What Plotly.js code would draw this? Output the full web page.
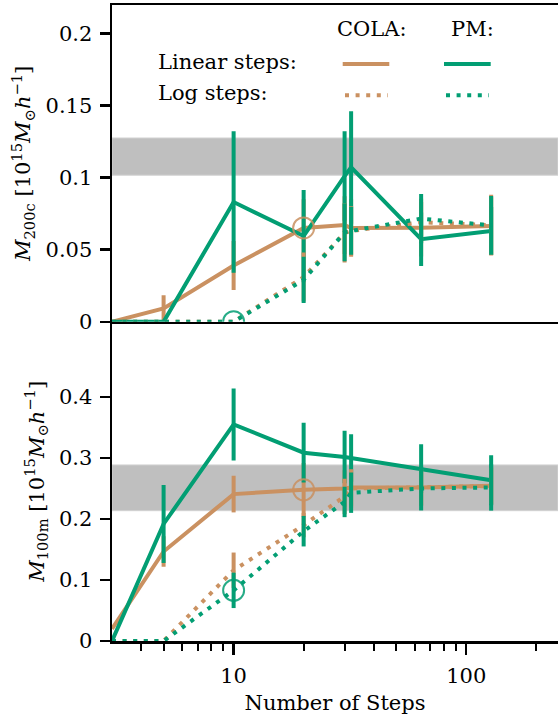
<!DOCTYPE html>
<html>
<head>
<meta charset="utf-8">
<script src="https://cdn.plot.ly/plotly-3.0.1.min.js"></script>
<style>html,body{margin:0;padding:0;background:#fff;}#chart{width:558px;height:716px;}</style>
</head>
<body>
<div id="chart"></div>
<script>
// ---- data ----
const steps = [3, 5, 10, 20, 30, 32, 64, 128];

// top panel: M200c
const colaLin200c    = [0, 0.0093, 0.039, 0.065, 0.067, 0.065, 0.0652, 0.0663];
const colaLin200cErr = [0, 0.009, 0.017, 0.020, 0.020, 0.020, 0.020, 0.020];
const pmLin200c      = [0, 0, 0.083, 0.0594, 0.101, 0.107, 0.0572, 0.0629];
const pmLin200cErr   = [0, 0, 0.049, 0.032, 0.031, 0.039, 0.0185, 0.0166];
const colaLog200c    = [0, 0, 0, 0.031, 0.0615, 0.063, 0.069, 0.067];
const colaLog200cErr = [0, 0, 0, 0.017, 0.0205, 0.017, 0.014, 0.021];
const pmLog200c      = [0, 0, 0, 0.029, 0.062, 0.063, 0.0715, 0.0668];
const pmLog200cErr   = [0, 0, 0, 0.016, 0.020, 0.0165, 0.017, 0.0203];
const band200c = [0.1016, 0.1274];

// bottom panel: M100m
const colaLin100m    = [0.02, 0.1467, 0.2408, 0.2478, 0.25, 0.2517, 0.2517, 0.2543];
const colaLin100mErr = [0, 0.025, 0.030, 0.044, 0.030, 0.030, 0.030, 0.030];
const pmLin100m      = [0, 0.1919, 0.355, 0.3087, 0.3017, 0.300, 0.2827, 0.2636];
const pmLin100mErr   = [0, 0.064, 0.059, 0.049, 0.043, 0.039, 0.040, 0.041];
const colaLog100m    = [0, 0, 0.116, 0.19, 0.237, 0.25, 0.252, 0.254];
const colaLog100mErr = [0, 0, 0.029, 0.020, 0.029, 0.0315, 0.030, 0.030];
const pmLog100m      = [0, 0, 0.083, 0.18, 0.228, 0.243, 0.25, 0.2517];
const pmLog100mErr   = [0, 0, 0.029, 0.025, 0.025, 0.033, 0.036, 0.038];
const band100m = [0.2136, 0.2886];

// highlighted runs (open circles)
const highlightColaStep = 20;  // COLA, linear steps
const highlightPmStep = 10;    // PM, log steps

const yTicksTop = [0, 0.05, 0.1, 0.15, 0.2];
const yTickTextTop = ['0', '0.05', '0.1', '0.15', '0.2'];
const yTicksBot = [0, 0.1, 0.2, 0.3, 0.4];
const yTickTextBot = ['0', '0.1', '0.2', '0.3', '0.4'];
const xMajor = [10, 100];
const xMajorText = ['10', '100'];
const xMinor = [4, 5, 6, 7, 8, 9, 20, 30, 40, 50, 60, 70, 80, 90, 200];

// ---- styling ----
const TAN = '#CA9161';
const GREEN = '#029E73';
const FONT = 'DejaVu Serif';
const FS = 21;
const LW = 4;
const DOT = '4px,6.6px';

function series(y, err, color, dash, xa, ya) {
  return {
    x: steps, y: y, xaxis: xa, yaxis: ya, type: 'scatter', mode: 'lines',
    line: {color: color, width: LW, dash: dash},
    error_y: {type: 'data', array: err, visible: true, color: color, thickness: 4, width: 0},
    hoverinfo: 'skip', showlegend: false
  };
}
function circle(step, yArr, color, xa, ya) {
  const i = steps.indexOf(step);
  return {
    x: [step], y: [yArr[i]], xaxis: xa, yaxis: ya, type: 'scatter', mode: 'markers',
    marker: {symbol: 'circle-open', size: 21, color: color, line: {width: 2, color: color}},
    opacity: 0.85, hoverinfo: 'skip', showlegend: false
  };
}

const data = [
  series(colaLin200c, colaLin200cErr, TAN, 'solid', 'x', 'y'),
  series(pmLin200c, pmLin200cErr, GREEN, 'solid', 'x', 'y'),
  series(colaLog200c, colaLog200cErr, TAN, DOT, 'x', 'y'),
  series(pmLog200c, pmLog200cErr, GREEN, DOT, 'x', 'y'),
  circle(highlightColaStep, colaLin200c, TAN, 'x', 'y'),
  circle(highlightPmStep, pmLog200c, GREEN, 'x', 'y'),
  series(colaLin100m, colaLin100mErr, TAN, 'solid', 'x2', 'y2'),
  series(pmLin100m, pmLin100mErr, GREEN, 'solid', 'x2', 'y2'),
  series(colaLog100m, colaLog100mErr, TAN, DOT, 'x2', 'y2'),
  series(pmLog100m, pmLog100mErr, GREEN, DOT, 'x2', 'y2'),
  circle(highlightColaStep, colaLin100m, TAN, 'x2', 'y2'),
  circle(highlightPmStep, pmLog100m, GREEN, 'x2', 'y2')
];

// pixel geometry of the plot area
const W = 558, H = 716, ML = 112, MR = 0, MT = 5, MB = 74.5;
const plotW = W - ML - MR, plotH = H - MT - MB;
const splitPx = 322;
const split = (H - MB - splitPx) / plotH;
const px = v => (v - ML) / plotW;
const py = v => (H - MB - v) / plotH;

const xRange = [Math.log10(3.0), 2.3946];
const axisCommon = {
  showgrid: false, zeroline: false, showline: true, linecolor: '#000', linewidth: 2.5,
  tickfont: {family: FONT, size: FS, color: '#000'}, tickcolor: '#000'
};
const yTitleFont = {family: FONT, size: FS, color: '#000'};

const layout = {
  width: W, height: H,
  margin: {l: ML, r: MR, t: MT, b: MB, pad: 0},
  paper_bgcolor: '#fff', plot_bgcolor: '#fff',
  showlegend: false,
  font: {family: FONT, size: FS, color: '#000'},
  xaxis: Object.assign({}, axisCommon, {
    type: 'log', range: xRange, anchor: 'y', mirror: true, showticklabels: false, ticks: ''
  }),
  yaxis: Object.assign({}, axisCommon, {
    domain: [split, 1], range: [0, 0.2196], anchor: 'x',
    tickmode: 'array', tickvals: yTicksTop, ticktext: yTickTextTop,
    ticks: 'outside', ticklen: 10, tickwidth: 2.5, ticklabelstandoff: 3,
    title: {text: '<i>M</i><sub>200c</sub> [10<sup>15</sup><i>M</i><sub>⊙</sub><i>h</i><sup>−1</sup>]', font: yTitleFont, standoff: 9}
  }),
  xaxis2: Object.assign({}, axisCommon, {
    type: 'log', range: xRange, anchor: 'y2', mirror: false,
    tickmode: 'array', tickvals: xMajor, ticktext: xMajorText,
    ticks: 'outside', ticklen: 11, tickwidth: 2.5, ticklabelstandoff: 3,
    minor: {tickmode: 'array', tickvals: xMinor, ticks: 'outside', ticklen: 7, tickwidth: 2, tickcolor: '#000', showgrid: false},
    title: {text: 'Number of Steps', font: yTitleFont, standoff: 9}
  }),
  yaxis2: Object.assign({}, axisCommon, {
    domain: [0, split], range: [0, 0.5233], anchor: 'x2',
    tickmode: 'array', tickvals: yTicksBot, ticktext: yTickTextBot,
    ticks: 'outside', ticklen: 10, tickwidth: 2.5, ticklabelstandoff: 3,
    title: {text: '<i>M</i><sub>100m</sub> [10<sup>15</sup><i>M</i><sub>⊙</sub><i>h</i><sup>−1</sup>]', font: yTitleFont, standoff: 9}
  }),
  shapes: [
    {type: 'rect', xref: 'x domain', yref: 'y', x0: 0, x1: 1, y0: band200c[0], y1: band200c[1],
     fillcolor: '#bfbfbf', line: {color: '#d2d2d2', width: 1}, layer: 'below'},
    {type: 'rect', xref: 'x2 domain', yref: 'y2', x0: 0, x1: 1, y0: band100m[0], y1: band100m[1],
     fillcolor: '#bfbfbf', line: {color: '#d2d2d2', width: 1}, layer: 'below'},
    // legend samples
    {type: 'line', xref: 'paper', yref: 'paper', x0: px(342.7), x1: px(389.3), y0: py(64), y1: py(64), line: {color: TAN, width: LW}},
    {type: 'line', xref: 'paper', yref: 'paper', x0: px(444), x1: px(490.7), y0: py(64), y1: py(64), line: {color: GREEN, width: LW}},
    {type: 'line', xref: 'paper', yref: 'paper', x0: px(345), x1: px(388), y0: py(95.3), y1: py(95.3), line: {color: TAN, width: LW, dash: DOT}},
    {type: 'line', xref: 'paper', yref: 'paper', x0: px(446), x1: px(489), y0: py(95.3), y1: py(95.3), line: {color: GREEN, width: LW, dash: DOT}}
  ],
  annotations: [
    {text: 'COLA:', xref: 'paper', yref: 'paper', x: px(335), y: py(29), xanchor: 'left', yanchor: 'middle', showarrow: false, font: {family: FONT, size: FS}},
    {text: 'PM:', xref: 'paper', yref: 'paper', x: px(448.5), y: py(29), xanchor: 'left', yanchor: 'middle', showarrow: false, font: {family: FONT, size: FS}},
    {text: 'Linear steps:', xref: 'paper', yref: 'paper', x: px(155.5), y: py(62), xanchor: 'left', yanchor: 'middle', showarrow: false, font: {family: FONT, size: FS}},
    {text: 'Log steps:', xref: 'paper', yref: 'paper', x: px(155.5), y: py(93.5), xanchor: 'left', yanchor: 'middle', showarrow: false, font: {family: FONT, size: FS}}
  ]
};

Plotly.newPlot('chart', data, layout, {staticPlot: true, displayModeBar: false});
</script>
</body>
</html>
